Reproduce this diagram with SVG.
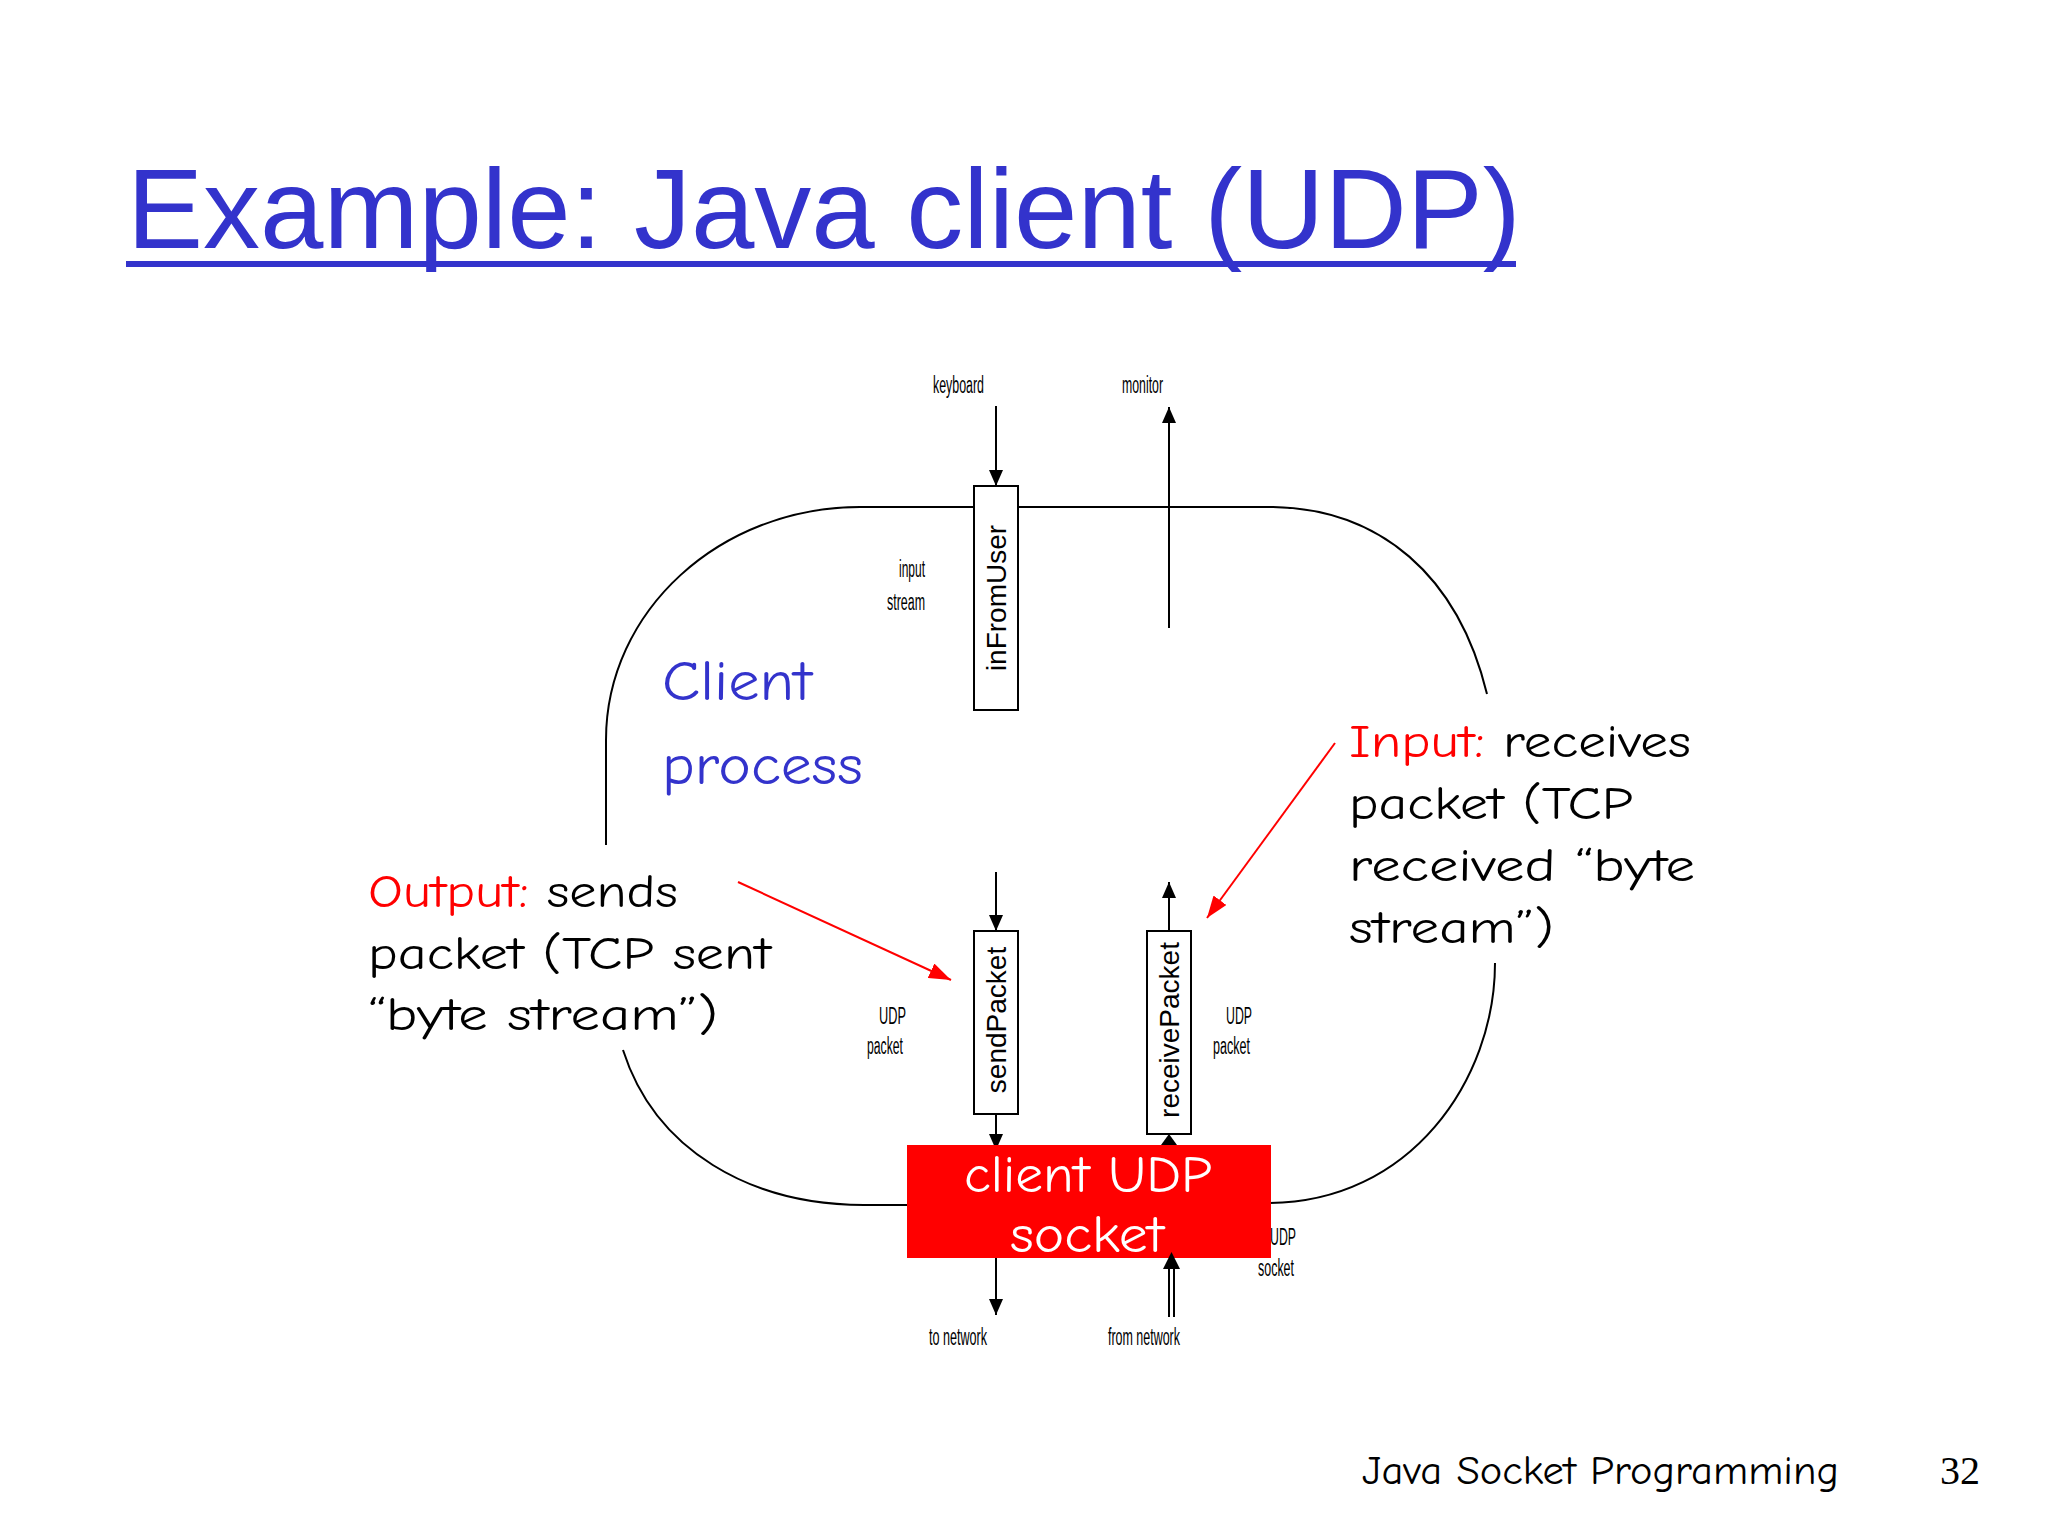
<svg xmlns="http://www.w3.org/2000/svg" width="2048" height="1536" viewBox="0 0 2048 1536">
<defs>
<marker id="ah" viewBox="0 0 16 14" refX="16" refY="7" markerWidth="16" markerHeight="14" markerUnits="userSpaceOnUse" orient="auto">
<path d="M0,0 L16,7 L0,14 Z" fill="#000"/>
</marker>
<marker id="ahr" viewBox="0 0 22 16" refX="22" refY="8" markerWidth="22" markerHeight="16" markerUnits="userSpaceOnUse" orient="auto">
<path d="M0,0 L22,8 L0,16 Z" fill="#FF0000"/>
</marker>
<style>
.title{font-family:"Liberation Sans",Arial,sans-serif;font-size:114px;fill:#3333CC}
.comic{font-family:"Comic Sans MS","Comic Neue","Open Sans",sans-serif}
.small{font-family:"Liberation Sans",Arial,sans-serif;font-size:23px;fill:#000}
.box{fill:#fff;stroke:#000;stroke-width:2}
.boxlabel{font-family:"Liberation Sans",Arial,sans-serif;font-size:28px;fill:#000;text-anchor:middle}
.line{fill:none;stroke:#000;stroke-width:2}
.red{fill:none;stroke:#FF0000;stroke-width:2}
</style>
</defs>
<rect width="2048" height="1536" fill="#fff"/>

<g id="title">
<text class="title" x="127" y="248">Example: Java client (UDP)</text>
<rect x="126" y="261" width="1390" height="6" fill="#3333CC"/>
</g>

<g id="process-outline">
<path class="line" d="M606,845 L606,740 C606,611 720,507 860,507 L1273,507 C1380,509 1458,575 1487,694"/>
<path class="line" d="M623,1050 C655,1150 750,1205 864,1205 L910,1205"/>
<path class="line" d="M1495,963 C1495,1080 1410,1203 1268,1203"/>
</g>

<g id="client-process-label">
<text class="comic" x="662" y="700" font-size="56" fill="#3333CC" textLength="150" lengthAdjust="spacingAndGlyphs">Client</text>
<text class="comic" x="662" y="784" font-size="56" fill="#3333CC" textLength="201" lengthAdjust="spacingAndGlyphs">process</text>
</g>

<g id="connectors">
<line class="line" x1="996" y1="406" x2="996" y2="486" marker-end="url(#ah)"/>
<line class="line" x1="1169" y1="628" x2="1169" y2="407" marker-end="url(#ah)"/>
<line class="line" x1="996" y1="872" x2="996" y2="931" marker-end="url(#ah)"/>
<line class="line" x1="996" y1="1114" x2="996" y2="1150" marker-end="url(#ah)"/>
<line class="line" x1="1169" y1="931" x2="1169" y2="882" marker-end="url(#ah)"/>
<path d="M1161,1145 L1169,1134 L1177,1145 Z" fill="#000"/>
<line class="line" x1="996" y1="1258" x2="996" y2="1315" marker-end="url(#ah)"/>
<line class="red" x1="738" y1="882" x2="951" y2="980" marker-end="url(#ahr)"/>
<line class="red" x1="1335" y1="743" x2="1207" y2="918" marker-end="url(#ahr)"/>
</g>

<g id="small-labels">
<text class="small" x="933" y="393" textLength="51" lengthAdjust="spacingAndGlyphs">keyboard</text>
<text class="small" x="1122" y="393" textLength="41" lengthAdjust="spacingAndGlyphs">monitor</text>
<text class="small" x="899" y="577" textLength="26" lengthAdjust="spacingAndGlyphs">input</text>
<text class="small" x="887" y="610" textLength="38" lengthAdjust="spacingAndGlyphs">stream</text>
<text class="small" x="879" y="1024" textLength="27" lengthAdjust="spacingAndGlyphs">UDP</text>
<text class="small" x="867" y="1054" textLength="36" lengthAdjust="spacingAndGlyphs">packet</text>
<text class="small" x="1226" y="1024" textLength="26" lengthAdjust="spacingAndGlyphs">UDP</text>
<text class="small" x="1213" y="1054" textLength="37" lengthAdjust="spacingAndGlyphs">packet</text>
<text class="small" x="1270" y="1245" textLength="26" lengthAdjust="spacingAndGlyphs">UDP</text>
<text class="small" x="1258" y="1276" textLength="36" lengthAdjust="spacingAndGlyphs">socket</text>
<text class="small" x="929" y="1345" textLength="58" lengthAdjust="spacingAndGlyphs">to network</text>
<text class="small" x="1108" y="1345" textLength="72" lengthAdjust="spacingAndGlyphs">from network</text>
</g>

<g id="inFromUser">
<rect class="box" x="974" y="486" width="44" height="224"/>
<text class="boxlabel" transform="translate(1006,598) rotate(-90)">inFromUser</text>
</g>

<g id="sendPacket">
<rect class="box" x="974" y="931" width="44" height="183"/>
<text class="boxlabel" transform="translate(1006,1020) rotate(-90)">sendPacket</text>
</g>

<g id="receivePacket">
<rect class="box" x="1147" y="931" width="44" height="203"/>
<text class="boxlabel" transform="translate(1179,1030) rotate(-90)">receivePacket</text>
</g>

<g id="client-udp-socket">
<rect x="907" y="1145" width="364" height="113" fill="#FF0000"/>
<text class="comic" x="1088" y="1192" font-size="52" fill="#fff" text-anchor="middle" textLength="248" lengthAdjust="spacingAndGlyphs">client UDP</text>
<text class="comic" x="1087" y="1252" font-size="52" fill="#fff" text-anchor="middle" textLength="154" lengthAdjust="spacingAndGlyphs">socket</text>
</g>

<g id="from-network">
<line x1="1169" y1="1317" x2="1169" y2="1266" stroke="#000" stroke-width="2"/>
<line x1="1174" y1="1317" x2="1174" y2="1266" stroke="#000" stroke-width="2"/>
<path d="M1163,1269 L1171.5,1252 L1180,1269 Z" fill="#000"/>
</g>

<g id="output-note">
<text class="comic" x="368" y="907" font-size="46" textLength="310" lengthAdjust="spacingAndGlyphs"><tspan fill="#FF0000">Output:</tspan><tspan fill="#000"> sends</tspan></text>
<text class="comic" x="368" y="969" font-size="46" fill="#000" textLength="403" lengthAdjust="spacingAndGlyphs">packet (TCP sent</text>
<text class="comic" x="368" y="1030" font-size="46" fill="#000" textLength="350" lengthAdjust="spacingAndGlyphs">“byte stream”)</text>
</g>

<g id="input-note">
<text class="comic" x="1349" y="757" font-size="46" textLength="342" lengthAdjust="spacingAndGlyphs"><tspan fill="#FF0000">Input:</tspan><tspan fill="#000"> receives</tspan></text>
<text class="comic" x="1349" y="819" font-size="46" fill="#000" textLength="284" lengthAdjust="spacingAndGlyphs">packet (TCP</text>
<text class="comic" x="1349" y="881" font-size="46" fill="#000" textLength="346" lengthAdjust="spacingAndGlyphs">received “byte</text>
<text class="comic" x="1349" y="943" font-size="46" fill="#000" textLength="205" lengthAdjust="spacingAndGlyphs">stream”)</text>
</g>

<g id="footer">
<text class="comic" x="1362" y="1484" font-size="40" fill="#000" textLength="477" lengthAdjust="spacingAndGlyphs">Java Socket Programming</text>
<text x="1940" y="1484" font-family="'Liberation Serif','Times New Roman',serif" font-size="40" fill="#000">32</text>
</g>
</svg>
